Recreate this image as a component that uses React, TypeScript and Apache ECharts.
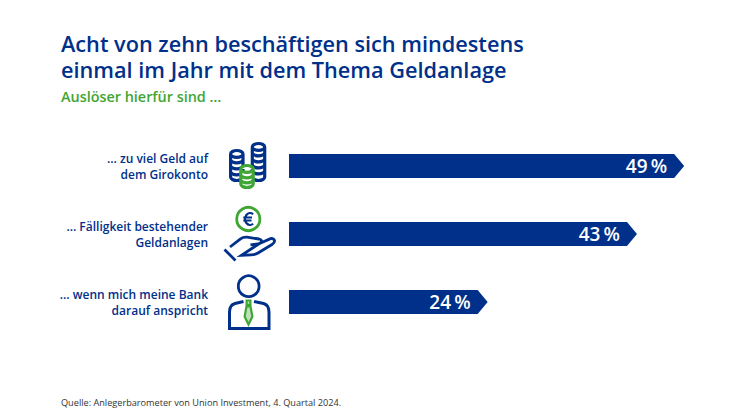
import React, { useEffect, useRef } from "react";
import * as echarts from "echarts";

const titleLines = ["Acht von zehn beschäftigen sich mindestens", "einmal im Jahr mit dem Thema Geldanlage"];
const subtitle = "Auslöser hierfür sind …";
const source = "Quelle: Anlegerbarometer von Union Investment, 4. Quartal 2024.";
const categories = ["… zu viel Geld auf\ndem Girokonto", "… Fälligkeit bestehender\nGeldanlagen", "… wenn mich meine Bank\ndarauf anspricht"];
const values = [49, 43, 24];

const NAVY = "#00308A";
const GREEN = "#3FA535";
const FONT = "'Open Sans', sans-serif";

const stack = (h: number, rings: number[]) => {
  const rx = 6.2, ry = 3.4;
  let d = `M${-rx},${ry} A${rx},${ry} 0 1 1 ${rx},${ry} A${rx},${ry} 0 1 1 ${-rx},${ry} Z `;
  d += `M${-rx},${ry} V${h - ry} A${rx},${ry} 0 0 0 ${rx},${h - ry} V${ry} `;
  rings.forEach((y) => { d += `M${-rx},${y} A${rx},${ry} 0 0 0 ${rx},${y} `; });
  return d;
};
echarts.graphic.registerShape("stackRight", echarts.graphic.extendPath(stack(37, [9, 15, 21, 27]) as any, {}) as any);
echarts.graphic.registerShape("stackLeft", echarts.graphic.extendPath(stack(30, [9, 15, 21]) as any, {}) as any);
echarts.graphic.registerShape("stackGreen", echarts.graphic.extendPath(stack(22, [9, 14]) as any, {}) as any);
echarts.graphic.registerShape("euroSign", echarts.graphic.extendPath(
  "M3.6,-4.8 A5,6 0 1 0 3.6,4.8 M-6.2,-1.5 H2.5 M-6.2,1.5 H2" as any, {}) as any);
echarts.graphic.registerShape("handShape", echarts.graphic.extendPath(
  "M230,247 L240.5,238.8 Q243,237 247,237.2 L259,239 Q261.5,239.5 261.5,241.2 Q261,243.5 258,243.8 L250.5,244.8 M259,243.8 L270.5,238.7 Q273.5,238 274.5,240.3 Q275,242.5 272,244.5 L258,253 Q255,254.8 251,254.8 L241.5,255.3 Z M224.5,249.5 L235.5,260.5" as any, {}) as any);
echarts.graphic.registerShape("bodyShape", echarts.graphic.extendPath(
  "M243.5,301.5 L235,303.5 Q229.5,305 229.5,312 V328.5 H269 V312 Q269,305 263.5,303.5 L254,301.5" as any, {}) as any);
echarts.graphic.registerShape("tieShape", echarts.graphic.extendPath(
  "M246.6,300.5 H250.4 V304.8 H246.6 Z M246.5,306.5 L244.6,316.5 L248.5,324.5 L252.4,316.5 L250.5,306.5 Z" as any, {}) as any);

const stroke = (color: string, fill = "none", lineWidth = 3) => ({ fill, stroke: color, lineWidth });

const icons: any[] = [
  { type: "stackLeft", x: 236.8, y: 150.5, style: stroke(NAVY, "#fff", 3.2) },
  { type: "stackRight", x: 258.5, y: 143.5, style: stroke(NAVY, "#fff", 3.2) },
  { type: "stackGreen", x: 247, y: 165.5, style: stroke(GREEN, "#fff", 3.2) },
  { type: "circle", shape: { cx: 248.3, cy: 219, r: 11.6 }, style: stroke(GREEN, "none", 2.8) },
  { type: "euroSign", x: 249.5, y: 219, style: stroke(NAVY, "none", 2.2) },
  { type: "handShape", style: stroke(NAVY, "none", 2.8) },
  { type: "circle", shape: { cx: 248.7, cy: 286.2, r: 10.4 }, style: stroke(NAVY, "none", 2.8) },
  { type: "bodyShape", style: stroke(NAVY, "none", 3) },
  { type: "tieShape", style: stroke(GREEN, "#BFE0BA", 2.2) },
];

const titleStyle = { color: NAVY, fontFamily: FONT, fontWeight: 600, fontSize: 21.7, lineHeight: 24 };

export default function App() {
  const ref = useRef<HTMLDivElement>(null);
  useEffect(() => {
    const chart = echarts.init(ref.current!, null, { renderer: "svg" });
    chart.setOption({
      animation: false,
      backgroundColor: "#fff",
      title: [
        { text: titleLines[0], left: 56, top: 26, textStyle: titleStyle },
        { text: titleLines[1], left: 56, top: 52, textStyle: titleStyle },
        { text: subtitle, left: 56, top: 84, textStyle: { color: GREEN, fontFamily: FONT, fontWeight: 600, fontSize: 14.4 } },
        { text: source, left: 56, top: 393, textStyle: { color: "#333", fontFamily: FONT, fontWeight: 400, fontSize: 9.16 } },
      ],
      grid: { left: 289, top: 132, width: 393, height: 204 },
      xAxis: { type: "value", min: 0, max: 50, show: false },
      yAxis: {
        type: "category", data: categories, inverse: true,
        axisLine: { show: false }, axisTick: { show: false },
        axisLabel: { margin: 81, align: "right", color: NAVY, fontFamily: FONT, fontWeight: 600, fontSize: 12, lineHeight: 16 },
      },
      graphic: icons,
      series: [{
        type: "custom",
        data: values.map((v, i) => [v, i]),
        encode: { x: 0, y: 1 },
        renderItem: (_: any, api: any) => {
          const v = api.value(0);
          const [x0, yc] = api.coord([0, api.value(1)]);
          const [x1] = api.coord([v, api.value(1)]);
          const h = 12;
          return {
            type: "group",
            children: [
              { type: "polygon", shape: { points: [[x0, yc - h], [x1, yc - h], [x1 + 10, yc], [x1, yc + h], [x0, yc + h]] }, style: { fill: NAVY } },
              { type: "text", style: { text: `${v}\u2009%`, x: x1 - 7, y: yc, align: "right", verticalAlign: "middle", fill: "#fff", fontFamily: FONT, fontWeight: 600, fontSize: 19 } },
            ],
          };
        },
      }],
    });
    return () => chart.dispose();
  }, []);
  return <div ref={ref} style={{ position: "absolute", left: 0, top: 0, width: 746, height: 420 }} />;
}
